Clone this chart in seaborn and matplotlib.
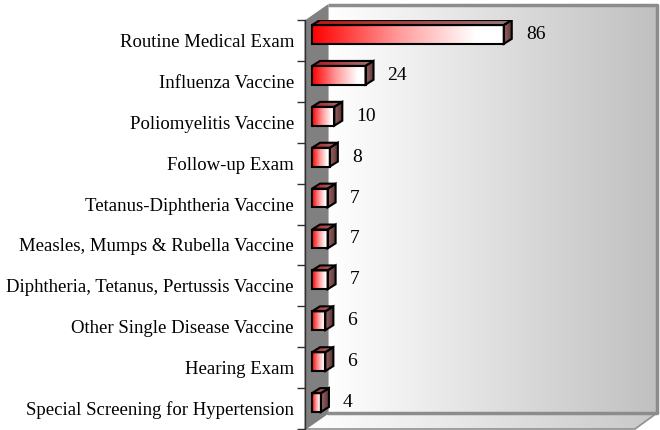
import numpy as np
import pandas as pd
import matplotlib
matplotlib.use('Agg')
import matplotlib.pyplot as plt
import seaborn as sns
from matplotlib.transforms import offset_copy, IdentityTransform
from matplotlib.patches import Polygon
from matplotlib.colors import LinearSegmentedColormap

# Dados
categories = [
    'Routine Medical Exam',
    'Influenza Vaccine',
    'Poliomyelitis Vaccine',
    'Follow-up Exam',
    'Tetanus-Diphtheria Vaccine',
    'Measles, Mumps & Rubella Vaccine',
    'Diphtheria, Tetanus, Pertussis Vaccine',
    'Other Single Disease Vaccine',
    'Hearing Exam',
    'Special Screening for Hypertension',
]
counts = [86, 24, 10, 8, 7, 7, 7, 6, 6, 4]

W, H = 660, 430

sns.set_theme(style='white')
plt.rcParams['font.family'] = ['Liberation Serif', 'DejaVu Serif']

fig = plt.figure(figsize=(W / 100, H / 100), dpi=100)
fig.patch.set_facecolor('white')

grad = np.linspace(0, 1, 256).reshape(1, -1)
wall_cmap = LinearSegmentedColormap.from_list('wall', ['#ffffff', '#c0c0c0'])
floor_cmap = LinearSegmentedColormap.from_list('floor', ['#ffffff', '#c8c8c8'])
front_cmap = LinearSegmentedColormap.from_list(
    'front', [(0, '#ff0000'), (0.45, '#ff9a9a'), (0.85, '#ffffff'), (1, '#ffffff')])
top_cmap = LinearSegmentedColormap.from_list('top', ['#b81818', '#9a7a7a'])
side_cmap = LinearSegmentedColormap.from_list('side', ['#a06060', '#553838'])

# --- moldura 3D (paredes e piso), em pixels ---
bg = fig.add_axes([0, 0, 1, 1], zorder=0)
bg.set_xlim(0, W)
bg.set_ylim(H, 0)
bg.axis('off')

bg.imshow(grad, cmap=wall_cmap, extent=(328, 657, 413, 5), aspect='auto', zorder=1)
floor_poly = Polygon([(305, 429), (635, 429), (657, 413), (328, 413)], closed=True,
                     facecolor='none', edgecolor='#909090', lw=1.2, zorder=3)
bg.add_patch(floor_poly)
fl = bg.imshow(grad, cmap=floor_cmap, extent=(305, 657, 429, 413), aspect='auto', zorder=2)
fl.set_clip_path(floor_poly)
bg.add_patch(Polygon([(305, 21), (328, 5), (328, 413), (305, 429)], closed=True,
                     facecolor='#808080', edgecolor='#808080', lw=0.8, zorder=3))
bg.plot([328, 657, 657], [5, 5, 413], color='#8c8c8c', lw=2.5, zorder=4, solid_capstyle='butt')
bg.plot([328, 657], [413, 413], color='#8c8c8c', lw=2.5, zorder=4)
bg.set_xlim(0, W)
bg.set_ylim(H, 0)

# --- barras ---
ax = fig.add_axes([305 / W, 1 - 429 / H, 330 / W, 409 / H], zorder=1)
ax.patch.set_alpha(0)
df = pd.DataFrame({'categoria': categories, 'total': counts})
sns.barplot(data=df, x='total', y='categoria', orient='h', ax=ax, width=0.46,
            color='red', errorbar=None)
ax.set_xlim(0, 148)
ax.set_ylim(9.5, -0.5)
ax.set_autoscale_on(False)
ax.set_xlabel('')
ax.set_ylabel('')

front_tr = offset_copy(ax.transData, fig=fig, x=7, y=6, units='dots')
dx, dy = 8, 5
ident = IdentityTransform()

for p in list(ax.patches):
    p.set_transform(front_tr)
    p.set_facecolor('none')
    p.set_edgecolor('black')
    p.set_linewidth(1.5)
    p.set_zorder(5)
    x0, y0, w, h = p.get_x(), p.get_y(), p.get_width(), p.get_height()
    im = ax.imshow(grad, cmap=front_cmap, extent=(x0, x0 + w, y0 + h, y0),
                   aspect='auto', transform=front_tr, zorder=3)
    im.set_clip_path(p)

    pts = front_tr.transform([(x0, y0), (x0 + w, y0 + h)])
    L, R = pts[:, 0].min(), pts[:, 0].max()
    B, T = pts[:, 1].min(), pts[:, 1].max()

    top = Polygon([(L, T), (R, T), (R + dx, T + dy), (L + dx, T + dy)], closed=True,
                  transform=ident, facecolor='none', edgecolor='black', lw=1.5, zorder=5)
    ax.add_patch(top)
    it = ax.imshow(grad, cmap=top_cmap, extent=(L, R + dx, T, T + dy),
                   aspect='auto', transform=ident, zorder=3)
    it.set_clip_path(top)

    side = Polygon([(R, B), (R, T), (R + dx, T + dy), (R + dx, B + dy)], closed=True,
                   transform=ident, facecolor='none', edgecolor='black', lw=1.5, zorder=5)
    ax.add_patch(side)
    isd = ax.imshow(grad, cmap=side_cmap, extent=(R, R + dx, B, T + dy),
                    aspect='auto', transform=ident, zorder=3)
    isd.set_clip_path(side)

ax.set_xlim(0, 148)
ax.set_ylim(9.5, -0.5)

# rótulos de valor
label_tr = offset_copy(ax.transData, fig=fig, x=29, y=6, units='dots')
for i, v in enumerate(counts):
    ax.text(v, i, str(v), transform=label_tr, ha='left', va='center',
            fontsize=14, color='black', zorder=6)

# eixos
for s in ['top', 'right', 'bottom']:
    ax.spines[s].set_visible(False)
ax.spines['left'].set_color('#303030')
ax.spines['left'].set_linewidth(1.0)
ax.set_xticks([])
ax.set_yticks(range(len(categories)))
ax.set_yticklabels(categories, fontsize=13.5, color='black')
ax.set_yticks(np.arange(-0.5, len(categories), 1), minor=True)
ax.tick_params(axis='y', which='major', length=0, pad=8)
ax.tick_params(axis='y', which='minor', length=6, width=1, color='#303030', direction='out', left=True)

fig.savefig('out.png', dpi=100)
